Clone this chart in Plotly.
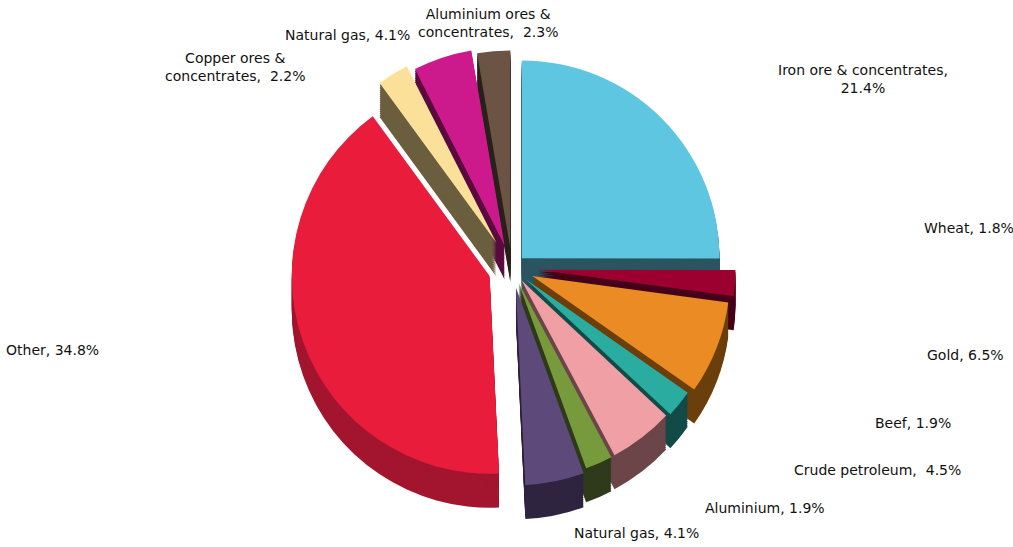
import plotly.graph_objects as go

categories = ["Iron ore & concentrates", "Wheat", "Gold", "Beef", "Crude petroleum",
              "Aluminium", "Natural gas", "Other", "Copper ores & concentrates",
              "Natural gas", "Aluminium ores & concentrates"]
values = [21.4, 1.8, 6.5, 1.9, 4.5, 1.9, 4.1, 34.8, 2.2, 4.1, 2.3]
label_text = ["Iron ore & concentrates,<br>21.4%", "Wheat, 1.8%", "Gold, 6.5%", "Beef, 1.9%",
              "Crude petroleum,  4.5%", "Aluminium, 1.9%", "Natural gas, 4.1%", "Other, 34.8%",
              "Copper ores &<br>concentrates,  2.2%", "Natural gas, 4.1%",
              "Aluminium ores &<br>concentrates,  2.3%"]
top_colors = ["#5EC6E0", "#9B0030", "#EA8B23", "#2AADA0", "#F0A0A4", "#779A3C",
              "#5E4A7A", "#E91C3C", "#FBE09A", "#CC1A8C", "#6B5444"]
side_colors = ["#2A5560", "#45001A", "#6B3F0B", "#124A48", "#6B4548", "#2F3A1A",
               "#2E2440", "#A3152E", "#6B5E3E", "#5A0A3E", "#2A221C"]
pulls = [0.07, 0.13, 0.11, 0.09, 0.08, 0.08, 0.1, 0.12, 0.15, 0.12, 0.1]

# label placement (layout only): pixel x, pixel y, horizontal anchor
label_pos = [(863, 79, "center"), (922, 228, "left"), (925, 355, "left"),
             (873, 423, "left"), (792, 470, "left"), (703, 508, "left"),
             (572, 533, "left"), (101, 350, "right"), (235, 67, "center"),
             (347, 35, "center"), (488, 23, "center")]

W, H = 1013, 547
depth = 34
S = 455            # pie box size in px
cx, cy = 512, 268  # centre of top pie box in px
n_layers = 18

fig = go.Figure()
ids = [str(i) for i in range(len(values))]
for k in range(n_layers, -1, -1):
    off = depth * k / n_layers
    y_c = cy + off
    dom_x = [(cx - S / 2) / W, (cx + S / 2) / W]
    dom_y = [max(0.0, 1 - (y_c + S / 2) / H), min(1.0, 1 - (y_c - S / 2) / H)]
    top = (k == 0)
    fig.add_trace(go.Pie(
        labels=ids,
        values=values,
        sort=False,
        direction="clockwise",
        rotation=0,
        pull=pulls,
        domain=dict(x=dom_x, y=dom_y),
        marker=dict(colors=top_colors if top else side_colors, line=dict(width=0)),
        textinfo="none",
        hoverinfo="skip",
        showlegend=False,
    ))

for txt, (px, py, anc) in zip(label_text, label_pos):
    fig.add_annotation(
        x=px / W, y=1 - py / H, xref="paper", yref="paper",
        text=txt, showarrow=False, xanchor=anc, yanchor="middle", align="center",
        font=dict(family="DejaVu Sans", size=14, color="#111111"),
    )

fig.update_layout(
    width=W, height=H,
    margin=dict(l=0, r=0, t=0, b=0),
    paper_bgcolor="white",
    plot_bgcolor="white",
    showlegend=False,
)
fig.write_html("out.html")
